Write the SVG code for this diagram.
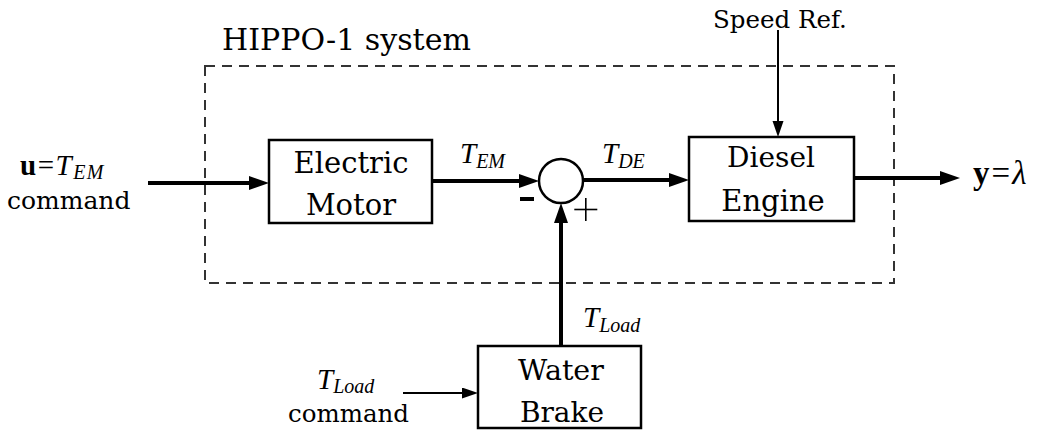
<svg xmlns="http://www.w3.org/2000/svg" width="1045" height="430" viewBox="0 0 1045 430">
<defs>
<style>
.rm{font-family:'DejaVu Serif',serif;fill:#000}
.ctr{text-anchor:middle}
.math{font-family:'Liberation Serif',serif;font-size:29px;font-style:italic}
.sub{font-size:20px;font-style:italic}
.box{fill:#fff;stroke:#000;stroke-width:2.5}
.thick{stroke:#000;stroke-width:4;fill:none}
.thin{stroke:#000;stroke-width:2;fill:none}
</style>
<marker id="ah" markerUnits="userSpaceOnUse" markerWidth="22" markerHeight="16" refX="10" refY="7" orient="auto">
<path d="M0,0 L20,7 L0,14 Z" fill="#000"/>
</marker>
<marker id="ahs" markerUnits="userSpaceOnUse" markerWidth="18" markerHeight="12" refX="8" refY="5.5" orient="auto">
<path d="M0,0 L16,5.5 L0,11 Z" fill="#000"/>
</marker>
</defs>
<rect width="1045" height="430" fill="#fff"/>

<g id="system-boundary">
<rect x="205" y="66" width="689" height="217" fill="none" stroke="#333" stroke-width="2" stroke-dasharray="10 7"/>
<text class="rm" font-family="'DejaVu Serif', serif" font-size="30" x="222" y="50">HIPPO-1 system</text>
</g>

<g id="connectors">
<line class="thick" x1="148" y1="183" x2="259" y2="183" marker-end="url(#ah)"/>
<line class="thick" x1="432" y1="181" x2="529" y2="181" marker-end="url(#ah)"/>
<line class="thick" x1="583" y1="180" x2="679" y2="180" marker-end="url(#ah)"/>
<line class="thick" x1="854" y1="178" x2="950" y2="178" marker-end="url(#ah)"/>
<line class="thick" x1="561" y1="346" x2="561" y2="213" marker-end="url(#ah)"/>
<line class="thin" x1="778" y1="30" x2="778" y2="129" marker-end="url(#ahs)"/>
<line class="thin" x1="403" y1="393" x2="470" y2="393" marker-end="url(#ahs)"/>
</g>

<g id="input-label">
<text font-family="'Liberation Serif', serif" font-size="29" x="20" y="175" style="letter-spacing:1.5px"><tspan font-weight="bold">u</tspan>=<tspan font-style="italic">T</tspan><tspan class="sub" dy="4">EM</tspan></text>
<text class="rm" font-family="'DejaVu Serif', serif" font-size="25" x="7" y="209">command</text>
</g>

<g id="electric-motor">
<rect class="box" x="269" y="140" width="163" height="83"/>
<text class="rm ctr" font-family="'DejaVu Serif', serif" font-size="29" x="351" y="173">Electric</text>
<text class="rm ctr" font-family="'DejaVu Serif', serif" font-size="29" x="351" y="215">Motor</text>
</g>

<g id="label-tem">
<text class="math" x="460" y="163">T<tspan class="sub" dy="5">EM</tspan></text>
</g>

<g id="sum-junction">
<circle cx="561" cy="181" r="22" fill="#fff" stroke="#000" stroke-width="2.5"/>
<rect x="520" y="197" width="14" height="4" fill="#000"/>
<rect x="585" y="198" width="1.6" height="23" fill="#000"/>
<rect x="574.3" y="208.7" width="23" height="1.6" fill="#000"/>
</g>

<g id="label-tde">
<text class="math" x="602" y="163">T<tspan class="sub" dy="5">DE</tspan></text>
</g>

<g id="diesel-engine">
<rect class="box" x="689" y="137" width="165" height="84"/>
<text class="rm ctr" font-family="'DejaVu Serif', serif" font-size="28" x="771" y="167">Diesel</text>
<text class="rm ctr" font-family="'DejaVu Serif', serif" font-size="29" x="773" y="211">Engine</text>
</g>

<g id="speed-ref">
<text class="rm" font-family="'DejaVu Serif', serif" font-size="24.5" x="713" y="28">Speed Ref.</text>
</g>

<g id="output-label">
<text font-family="'Liberation Serif', serif" font-size="33" x="973" y="184" style="letter-spacing:2px"><tspan font-weight="bold">y</tspan>=<tspan font-style="italic">λ</tspan></text>
</g>

<g id="label-tload">
<text class="math" x="583" y="327">T<tspan class="sub" dy="5">Load</tspan></text>
</g>

<g id="water-brake">
<rect class="box" x="478" y="346" width="163" height="82"/>
<text class="rm ctr" font-family="'DejaVu Serif', serif" font-size="28.5" x="561" y="380">Water</text>
<text class="rm ctr" font-family="'DejaVu Serif', serif" font-size="28" x="562" y="422">Brake</text>
</g>

<g id="tload-command">
<text class="math" x="317" y="389">T<tspan class="sub" dy="4">Load</tspan></text>
<text class="rm" font-family="'DejaVu Serif', serif" font-size="24.5" x="288" y="422">command</text>
</g>
</svg>
